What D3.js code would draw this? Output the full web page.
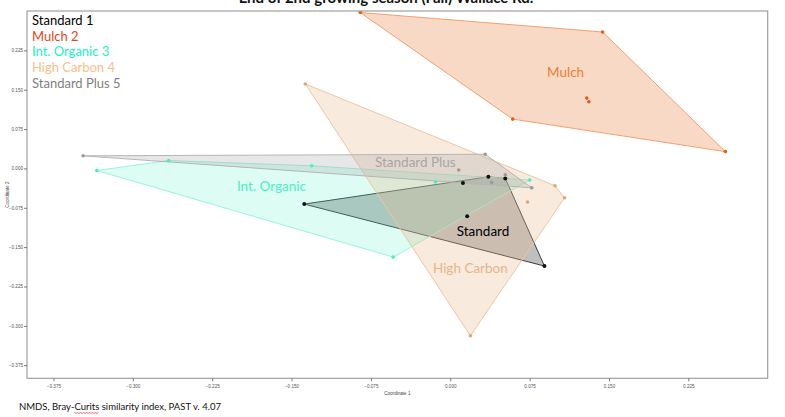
<!DOCTYPE html>
<html>
<head>
<meta charset="utf-8">
<script src="https://cdn.jsdelivr.net/npm/d3@7"></script>
<style>
  body { margin: 0; background: #fff; }
  svg { display: block; font-family: Lato, "Open Sans", sans-serif; }
</style>
</head>
<body>
<svg id="chart" width="785" height="417"></svg>
<script>
// NMDS coordinates, one list per treatment
const groupNames = ["Standard", "Mulch", "Int. Organic", "High Carbon", "Standard Plus"];
const legendLabels = ["Standard 1", "Mulch 2", "Int. Organic 3", "High Carbon 4", "Standard Plus 5"];

const standardPts = [[-0.138, -0.068], [0.012, -0.028], [0.036, -0.016], [0.052, -0.019], [0.089, -0.186], [0.016, -0.091]];
const mulchPts = [[-0.085, 0.297], [0.144, 0.260], [0.260, 0.032], [0.059, 0.094], [0.129, 0.134], [0.131, 0.127]];
const organicPts = [[-0.334, -0.004], [-0.266, 0.015], [-0.131, 0.005], [-0.054, -0.169], [-0.014, -0.026], [0.075, -0.022]];
const carbonPts = [[-0.137, 0.161], [0.099, -0.033], [0.108, -0.056], [0.073, -0.064], [0.019, -0.319]];
const plusPts = [[-0.347, 0.024], [0.033, 0.027], [0.008, -0.003], [0.052, -0.012], [0.077, -0.037], [0.039, -0.027]];

// where each group name sits inside its hull
const labelPos = [[0.031, -0.122], [0.109, 0.180], [-0.169, -0.037], [0.019, -0.193], [-0.033, 0.010]];

const xTicks = [-0.375, -0.300, -0.225, -0.150, -0.075, 0.000, 0.075, 0.150, 0.225];
const yTicks = [0.225, 0.150, 0.075, 0.000, -0.075, -0.150, -0.225, -0.300, -0.375];

// styling per group
const pointColor = ["#111111", "#e0600f", "#3ef2c4", "#e2a672", "#9a9a9a"];
const fillColor  = ["#7f7f7f", "#ea8a4c", "#52f2c6", "#e8b88e", "#a8a8a8"];
const fillAlpha  = [0.5, 0.32, 0.2, 0.3, 0.27];
const strokeColor = ["#3a3a3a", "#f0a070", "#9af3da", "#ecc7a3", "#b5b5b5"];
const labelColor = ["#000000", "#ee7d31", "#4cf0c4", "#e8b58a", "#a6a6a6"];
const legendColor = ["#000000", "#e2461a", "#22f0c8", "#f8c08a", "#7f7f7f"];

const groups = [standardPts, mulchPts, organicPts, carbonPts, plusPts].map((pts, i) => ({
  name: groupNames[i], pts, i
}));

const svg = d3.select("#chart");
const plotLeft = 27, plotRight = 767.7, plotTop = 11, plotBottom = 378.3;

const xScale = d3.scaleLinear().domain([-0.4, 0.3]).range([plotLeft, plotRight]);
const yScale = d3.scaleLinear().domain([-0.4, 0.3]).range([plotBottom, plotTop]);

// clip so the Mulch hull can touch the frame
svg.append("clipPath").attr("id", "plot-clip")
  .append("rect")
    .attr("x", plotLeft).attr("y", plotTop)
    .attr("width", plotRight - plotLeft).attr("height", plotBottom - plotTop);

const plot = svg.append("g").attr("clip-path", "url(#plot-clip)");

// hulls first, in group order
plot.selectAll(".hull")
  .data(groups)
  .join("path")
    .attr("class", "hull")
    .attr("d", d => {
      const hull = d3.polygonHull(d.pts.map(p => [xScale(p[0]), yScale(p[1])]));
      return "M" + hull.join("L") + "Z";
    })
    .attr("fill", d => fillColor[d.i])
    .attr("fill-opacity", d => fillAlpha[d.i])
    .attr("stroke", d => strokeColor[d.i])
    .attr("stroke-width", 1);

// points on top
groups.forEach(g => {
  plot.selectAll(`.pt-${g.i}`)
    .data(g.pts)
    .join("circle")
      .attr("class", `pt-${g.i}`)
      .attr("cx", d => xScale(d[0]))
      .attr("cy", d => yScale(d[1]))
      .attr("r", g.i === 0 ? 2 : 1.8)
      .attr("fill", pointColor[g.i]);
});

// group names
plot.selectAll(".glabel")
  .data(groups)
  .join("text")
    .attr("class", "glabel")
    .attr("x", d => xScale(labelPos[d.i][0]))
    .attr("y", d => yScale(labelPos[d.i][1]))
    .attr("text-anchor", "middle")
    .attr("dominant-baseline", "middle")
    .attr("font-size", 13.5)
    .attr("fill", d => labelColor[d.i])
    .text(d => d.name);

// frame
svg.append("rect")
  .attr("x", plotLeft).attr("y", plotTop)
  .attr("width", plotRight - plotLeft).attr("height", plotBottom - plotTop)
  .attr("fill", "none")
  .attr("stroke", "#a0a0a0")
  .attr("stroke-width", 1.2);

// axes with tiny tick labels
const xAxis = svg.append("g")
  .attr("transform", `translate(0,${plotBottom})`)
  .call(d3.axisBottom(xScale).tickValues(xTicks).tickFormat(d3.format(".3f")).tickSize(3).tickSizeOuter(0));
const yAxis = svg.append("g")
  .attr("transform", `translate(${plotLeft},0)`)
  .call(d3.axisLeft(yScale).tickValues(yTicks).tickFormat(d3.format(".3f")).tickSize(3).tickSizeOuter(0));

[xAxis, yAxis].forEach(ax => {
  ax.select(".domain").remove();
  ax.selectAll(".tick line").attr("stroke", "#777");
  ax.selectAll(".tick text")
    .attr("fill", "#555")
    .attr("font-size", 4.6)
    .attr("font-family", "Liberation Sans, Arial, sans-serif");
});
xAxis.selectAll(".tick text").attr("dy", "0.9em");
yAxis.selectAll(".tick text").attr("x", -4);

svg.append("text")
  .attr("x", (plotLeft + plotRight) / 2).attr("y", 395)
  .attr("text-anchor", "middle")
  .attr("font-size", 4.6)
  .attr("fill", "#444")
  .attr("font-family", "Liberation Sans, Arial, sans-serif")
  .text("Coordinate 1");

svg.append("text")
  .attr("transform", `translate(8.5,${(plotTop + plotBottom) / 2}) rotate(-90)`)
  .attr("text-anchor", "middle")
  .attr("font-size", 4.6)
  .attr("fill", "#444")
  .attr("font-family", "Liberation Sans, Arial, sans-serif")
  .text("Coordinate 2");

// legend, top-left inside the frame
svg.append("g")
  .selectAll("text")
  .data(legendLabels)
  .join("text")
    .attr("x", 32)
    .attr("y", (d, i) => 25 + i * 15.7)
    .attr("font-size", 13)
    .attr("fill", (d, i) => legendColor[i])
    .text(d => d);

// title, cut off by the top edge like the source image
svg.append("text")
  .attr("x", 386).attr("y", 3)
  .attr("text-anchor", "middle")
  .attr("font-size", 15)
  .attr("font-weight", "bold")
  .attr("fill", "#111")
  .text("End of 2nd growing season (Fall) Wallace Rd.");

// footnote with the spell-check squiggle under "Curits"
const note = svg.append("text")
  .attr("x", 19).attr("y", 410)
  .attr("font-size", 9.5)
  .attr("fill", "#111")
  .text("NMDS, Bray-Curits similarity index, PAST v. 4.07");

const noteNode = note.node();
const start = "NMDS, Bray-".length;
const x0 = 19 + noteNode.getSubStringLength(0, start);
const w = noteNode.getSubStringLength(start, "Curits".length);
const squiggle = d3.range(0, Math.floor(w / 1.5) + 1).map(k => [x0 + k * 1.5, 412.5 + (k % 2 ? 1 : 0)]);
svg.append("path")
  .attr("d", d3.line()(squiggle))
  .attr("fill", "none")
  .attr("stroke", "#e03030")
  .attr("stroke-width", 0.7);
</script>
</body>
</html>
